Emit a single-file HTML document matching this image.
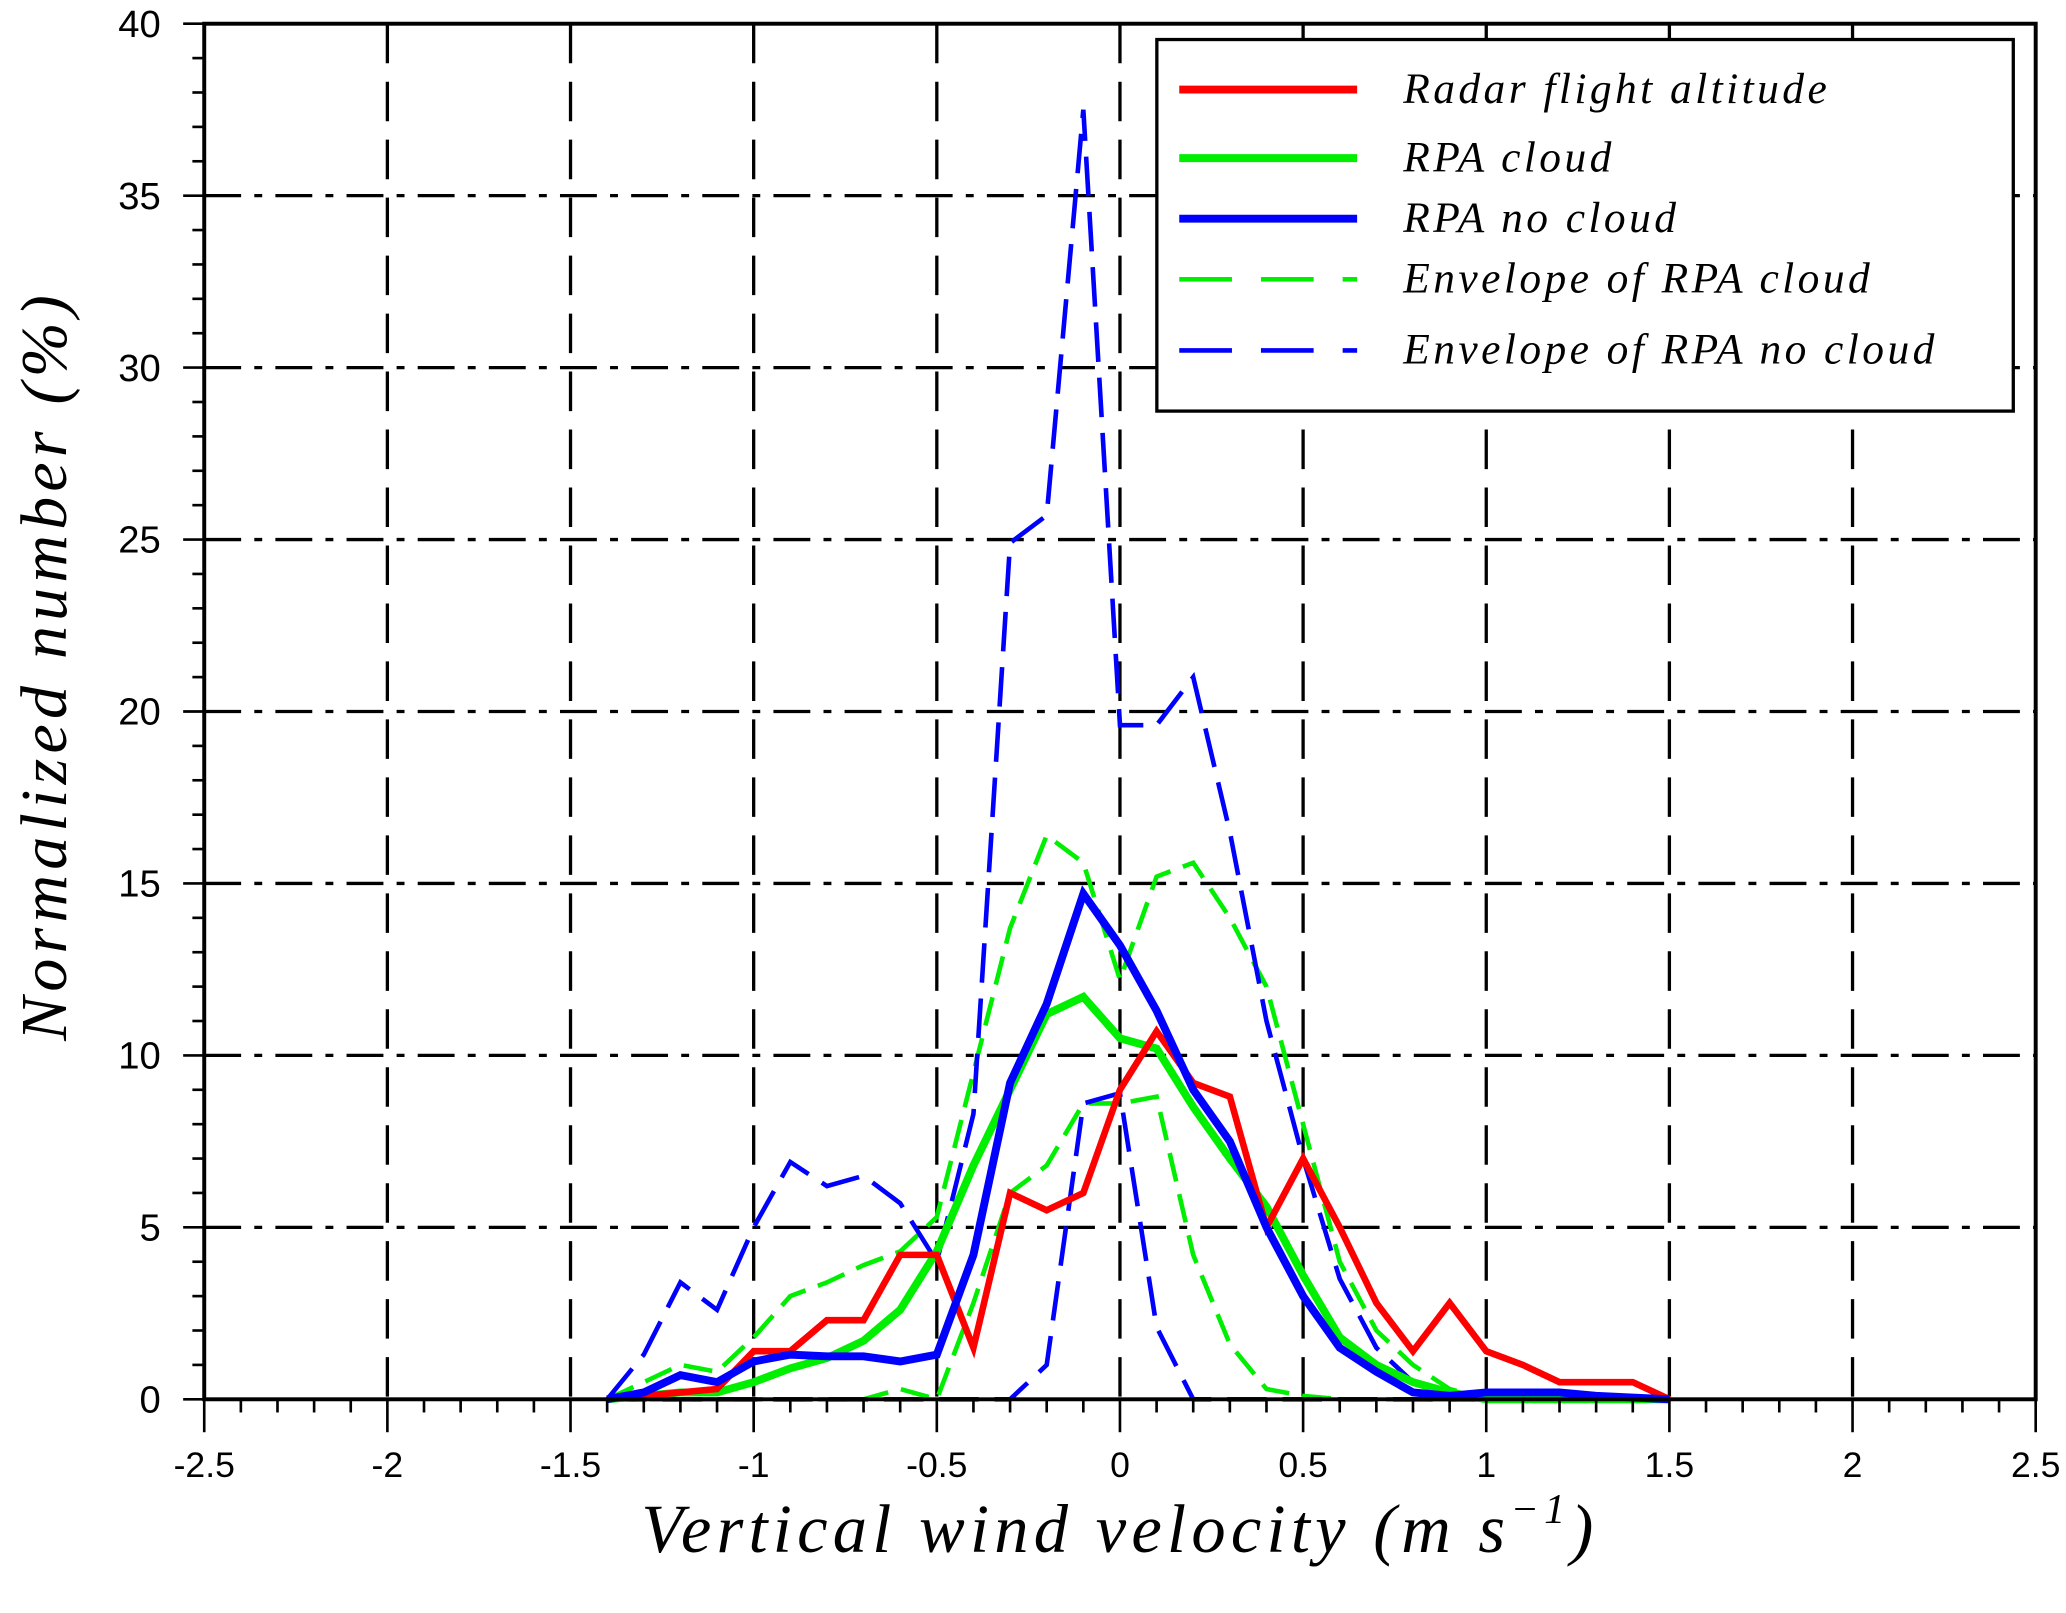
<!DOCTYPE html>
<html><head><meta charset="utf-8"><style>
html,body{margin:0;padding:0;background:#fff;}
svg{display:block;}
</style></head><body>
<svg id="chart" width="2066" height="1613" viewBox="0 0 1568 1224.2" xmlns="http://www.w3.org/2000/svg">
<rect x="0" y="0" width="1568" height="1224.2" fill="#fff"/>
<g id="grid"></g>
<g id="series"></g>
<g id="axes"></g>
<text transform="translate(50,505) rotate(-90)" text-anchor="middle" font-family="Liberation Serif, serif" font-style="italic" font-size="50" letter-spacing="4">Normalized number (%)</text>
<text x="850" y="1178" text-anchor="middle" font-family="Liberation Serif, serif" font-style="italic" font-size="52" letter-spacing="4">Vertical wind velocity (m s<tspan dy="-22" font-size="32">−1</tspan><tspan dy="22">)</tspan></text>
<g id="legend">
<rect x="878" y="30" width="650" height="282" fill="#fff" stroke="#000" stroke-width="2.5"/>
</g>
</svg>
<script>
const xs = [-1.4,-1.3,-1.2,-1.1,-1.0,-0.9,-0.8,-0.7,-0.6,-0.5,-0.4,-0.3,-0.2,-0.1,0,0.1,0.2,0.3,0.4,0.5,0.6,0.7,0.8,0.9,1.0,1.1,1.2,1.3,1.4,1.5];
const radar = [0,0.1,0.2,0.3,1.4,1.4,2.3,2.3,4.2,4.2,1.5,6.0,5.5,6.0,9.0,10.7,9.2,8.8,5.0,7.0,5.0,2.8,1.4,2.8,1.4,1.0,0.5,0.5,0.5,0];
const rpaCloud = [0,0.1,0.2,0.2,0.5,0.9,1.2,1.7,2.6,4.3,6.8,9.0,11.2,11.7,10.5,10.2,8.5,7.0,5.6,3.6,1.8,1.0,0.5,0.2,0,0,0,0,0,0];
const rpaNoCloud = [0,0.2,0.7,0.5,1.1,1.3,1.25,1.25,1.1,1.3,4.2,9.2,11.5,14.7,13.2,11.3,9.0,7.5,5.0,3.0,1.5,0.8,0.2,0.1,0.2,0.2,0.2,0.1,0.05,0];
const envCloudUpper = [0,0.5,1.0,0.8,1.8,3.0,3.4,3.9,4.3,5.3,9.5,13.7,16.4,15.6,12.2,15.2,15.6,14.0,12.0,8.0,4.0,2.0,1.0,0.3,0,0,0,0,0,0];
const envCloudLower = [0,0,0,0,0,0,0,0,0.3,0,2.8,6.0,6.8,8.6,8.6,8.8,4.2,1.6,0.3,0.1,0,0,0,0,0,0,0,0,0,0];
const envNoCloudUpper = [0,1.3,3.4,2.6,5.0,6.9,6.2,6.5,5.7,4.0,8.3,24.9,25.7,37.5,19.6,19.6,21.0,16.5,11.0,7.0,3.5,1.5,0.5,0.1,0,0,0,0,0,0];
const envNoCloudLower = [0,0,0,0,0,0,0,0,0,0,0,0,1.0,8.6,8.9,2.1,0,0,0,0,0,0,0,0,0,0,0,0,0,0];
const xTicks = [-2.5,-2,-1.5,-1,-0.5,0,0.5,1,1.5,2,2.5];
const xTickLabels = ["-2.5","-2","-1.5","-1","-0.5","0","0.5","1","1.5","2","2.5"];
const yTicks = [0,5,10,15,20,25,30,35,40];
const legendLabels = ["Radar flight altitude","RPA cloud","RPA no cloud","Envelope of RPA cloud","Envelope of RPA no cloud"];

const L=155,R=1545,T=18,B=1062;
const sx = v => L + (v+2.5)/5*(R-L);
const sy = v => B - v/40*(B-T);
const NS="http://www.w3.org/2000/svg";
function mk(tag, parent, attrs){const e=document.createElementNS(NS,tag);for(const k in attrs)e.setAttribute(k,attrs[k]);parent.appendChild(e);return e;}
const grid=document.getElementById('grid'), axes=document.getElementById('axes'), series=document.getElementById('series'), legend=document.getElementById('legend');

xTicks.forEach((t,i)=>{
  if(i>0&&i<xTicks.length-1){
    const g=mk('line',grid,{x1:sx(t),x2:sx(t),y1:T,y2:B,stroke:'#000','stroke-width':2.5,'stroke-dasharray':'30 14'});
    
    
  }
});
yTicks.forEach((t,i)=>{
  if(i>0&&i<yTicks.length-1){
    const g=mk('line',grid,{x1:L,x2:R,y1:sy(t),y2:sy(t),stroke:'#000','stroke-width':2.5,'stroke-dasharray':'28 10 6 10'});
    
    
  }
});

function path(vals){return xs.map((x,i)=>(i?'L':'M')+sx(x).toFixed(1)+','+sy(vals[i]).toFixed(1)).join(' ');}
const defs=[
 [envCloudUpper,'#00ee00',3.5,'22 10','envelope-rpa-cloud-upper'],
 [envCloudLower,'#00ee00',3.5,'22 10','envelope-rpa-cloud-lower'],
 [envNoCloudUpper,'#0000ff',3.5,'30 12','envelope-rpa-no-cloud-upper'],
 [envNoCloudLower,'#0000ff',3.5,'30 12','envelope-rpa-no-cloud-lower'],
 [rpaCloud,'#00ee00',6,'none','rpa-cloud-line'],
 [radar,'#ff0000',5,'none','radar-flight-altitude-line'],
 [rpaNoCloud,'#0000ff',6,'none','rpa-no-cloud-line'],
];
defs.forEach(d=>{
  const p=mk('path',series,{d:path(d[0]),fill:'none',stroke:d[1],'stroke-width':d[2],'stroke-dasharray':d[3],'stroke-linejoin':'miter'});
  
  
});

mk('rect',axes,{x:L,y:T,width:R-L,height:B-T,fill:'none',stroke:'#000','stroke-width':3});
for(let v=-2.5;v<=2.501;v+=0.1){
  const major=Math.abs(v*2-Math.round(v*2))<1e-6;
  mk('line',axes,{x1:sx(v),x2:sx(v),y1:B,y2:B+(major?25:10),stroke:'#000','stroke-width':2});
}
for(let v=0;v<=40;v+=1){
  const major=v%5===0;
  mk('line',axes,{x1:L-(major?16:9),x2:L,y1:sy(v),y2:sy(v),stroke:'#000','stroke-width':2});
}
xTicks.forEach((t,i)=>{
  const tx=mk('text',axes,{x:sx(t),y:1121,'text-anchor':'middle','font-family':'Liberation Sans, sans-serif','font-size':27});
  tx.textContent=xTickLabels[i];
  
  
});
yTicks.forEach(t=>{
  const tx=mk('text',axes,{x:122,y:sy(t)+10,'text-anchor':'end','font-family':'Liberation Sans, sans-serif','font-size':29});
  tx.textContent=String(t);
  
  
});

const legStyles=[['#ff0000',6,'none'],['#00ee00',6,'none'],['#0000ff',6,'none'],['#00ee00',3.5,'40 22'],['#0000ff',3.5,'40 22']];
const legY=[68,120,166,212,266];
legendLabels.forEach((lab,i)=>{
  const ln=mk('line',legend,{x1:895,x2:1030,y1:legY[i],y2:legY[i],stroke:legStyles[i][0],'stroke-width':legStyles[i][1],'stroke-dasharray':legStyles[i][2]});
  
  
  const tx=mk('text',legend,{x:1065,y:legY[i]+10,'font-family':'Liberation Serif, serif','font-style':'italic','font-size':33,'letter-spacing':2.6});
  tx.textContent=lab;
  
  
});
</script>
</body></html>
